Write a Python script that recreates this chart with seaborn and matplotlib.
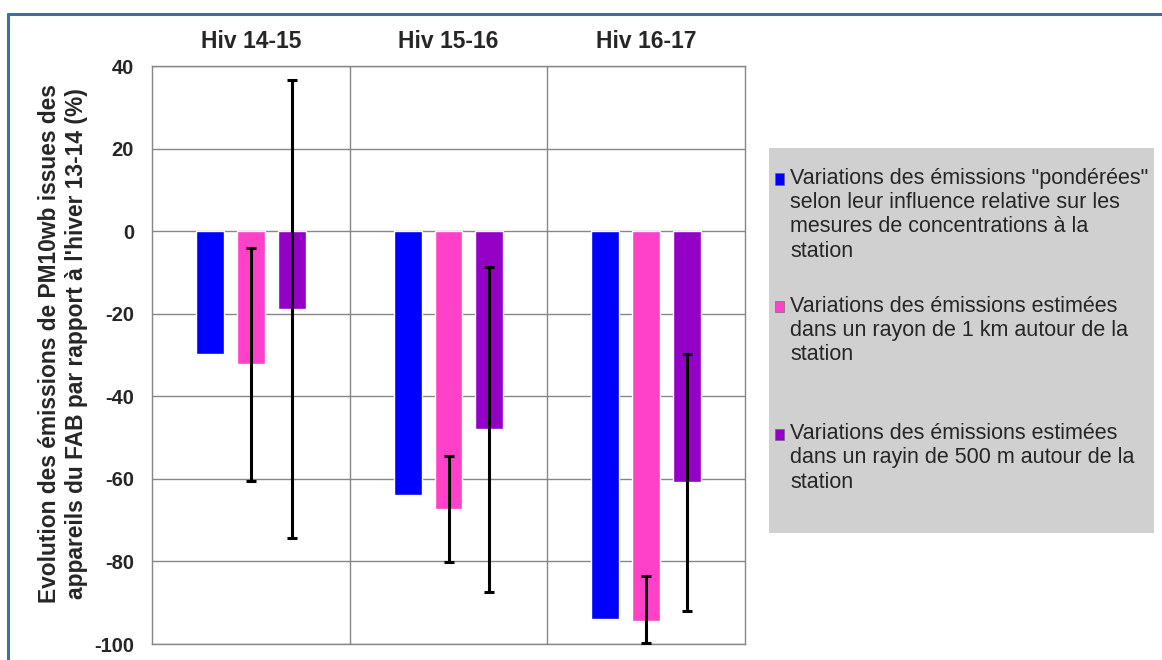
import numpy as np
import pandas as pd
import matplotlib.pyplot as plt
from matplotlib.patches import Rectangle
from matplotlib.lines import Line2D
import seaborn as sns

# données
hivers = ['Hiv 14-15', 'Hiv 15-16', 'Hiv 16-17']
series = [
    'Variations des émissions "pondérées"\nselon leur influence relative sur les\nmesures de concentrations à la\nstation',
    'Variations des émissions estimées\ndans un rayon de 1 km autour de la\nstation\n',
    'Variations des émissions estimées\ndans un rayin de 500 m autour de la\nstation\n',
]
val_ponderees = [-29.7, -64.0, -94.0]
val_1km = [-32.2, -67.2, -94.5]
val_500m = [-18.9, -48.0, -60.7]
# bornes des barres d'erreur (haut / bas)
err_1km_haut = [-4.1, -54.5, -83.6]
err_1km_bas = [-60.6, -80.1, -99.8]
err_500m_haut = [36.6, -8.7, -29.8]
err_500m_bas = [-74.4, -87.3, -92.0]
yticks = [40, 20, 0, -20, -40, -60, -80, -100]
couleurs = ['#0000FF', '#FF40C8', '#9400C6']

sns.set_style('white')
plt.rcParams['font.family'] = ['Liberation Sans', 'DejaVu Sans']
plt.rcParams['axes.unicode_minus'] = False

df = pd.DataFrame({
    'hiver': hivers * 3,
    'serie': [series[0]] * 3 + [series[1]] * 3 + [series[2]] * 3,
    'valeur': val_ponderees + val_1km + val_500m,
})

fig = plt.figure(figsize=(11.62, 6.6), dpi=100)
ax = fig.add_axes([152 / 1162, 1 - 644 / 660, 593 / 1162, 578 / 660])

sns.barplot(data=df, x='hiver', y='valeur', hue='serie', order=hivers,
            hue_order=series, palette=couleurs, saturation=1, width=0.62,
            gap=0.32, errorbar=None, ax=ax)

# barres d'erreur asymétriques (séries 1 km et 500 m)
for cont, vals, haut, bas in [(ax.containers[1], val_1km, err_1km_haut, err_1km_bas),
                              (ax.containers[2], val_500m, err_500m_haut, err_500m_bas)]:
    xs = [p.get_x() + p.get_width() / 2 for p in cont.patches]
    vals = np.array(vals)
    yerr = [vals - np.array(bas), np.array(haut) - vals]
    ax.errorbar(xs, vals, yerr=yerr, fmt='none', ecolor='black',
                elinewidth=2.2, capsize=3.6, capthick=2.2, zorder=5)

ax.set_ylim(-100, 40)
ax.set_yticks(yticks)
ax.set_xlim(-0.5, 2.5)
ax.set_xticks([0.5, 1.5], minor=True)
ax.xaxis.tick_top()
ax.tick_params(axis='x', which='both', length=0, pad=9, labelsize=16.5)
ax.tick_params(axis='y', length=0, pad=13, labelsize=14.5)
for t in ax.get_xticklabels() + ax.get_yticklabels():
    t.set_fontweight('bold')
ax.set_xlabel('')
ax.grid(axis='y', which='major', color='#868686', lw=1)
ax.grid(axis='x', which='minor', color='#868686', lw=1)
ax.set_axisbelow(True)
for s in ax.spines.values():
    s.set_color('#868686')
    s.set_linewidth(1)

ax.set_ylabel("Evolution des émissions de PM10wb issues des\nappareils du FAB par rapport à l'hiver 13-14 (%)",
              fontsize=16.4, fontweight='bold', linespacing=1.2)
ax.yaxis.set_label_coords(-0.108, 0.52)

# légende
handles, labels = ax.get_legend_handles_labels()
ax.get_legend().remove()
fig.patches.append(Rectangle((769 / 1162, 1 - 533 / 660), 385 / 1162, 385 / 660,
                             transform=fig.transFigure, facecolor='#D0D0D0',
                             edgecolor='none', zorder=0))
leg = fig.legend(handles, labels, loc='upper left',
                 bbox_to_anchor=(775 / 1162, 1 - 168 / 660),
                 frameon=False, fontsize=15.5, borderpad=0, borderaxespad=0,
                 handlelength=0.42, handleheight=0.42, handletextpad=0.3,
                 labelspacing=1.58)
for h in leg.legend_handles:
    h.set_y(h.get_y() + 1.5 * 17.3)
    h.set_edgecolor('#606060')
    h.set_linewidth(0.4)

# cadre du graphique
fig.add_artist(Line2D([8 / 1162, 1], [1 - 14 / 660, 1 - 14 / 660], color='#3D6FA3', lw=2.2))
fig.add_artist(Line2D([8 / 1162, 8 / 1162], [0, 1 - 14 / 660], color='#3D6FA3', lw=2.2))

plt.savefig('out.png', dpi=100)
plt.close()
